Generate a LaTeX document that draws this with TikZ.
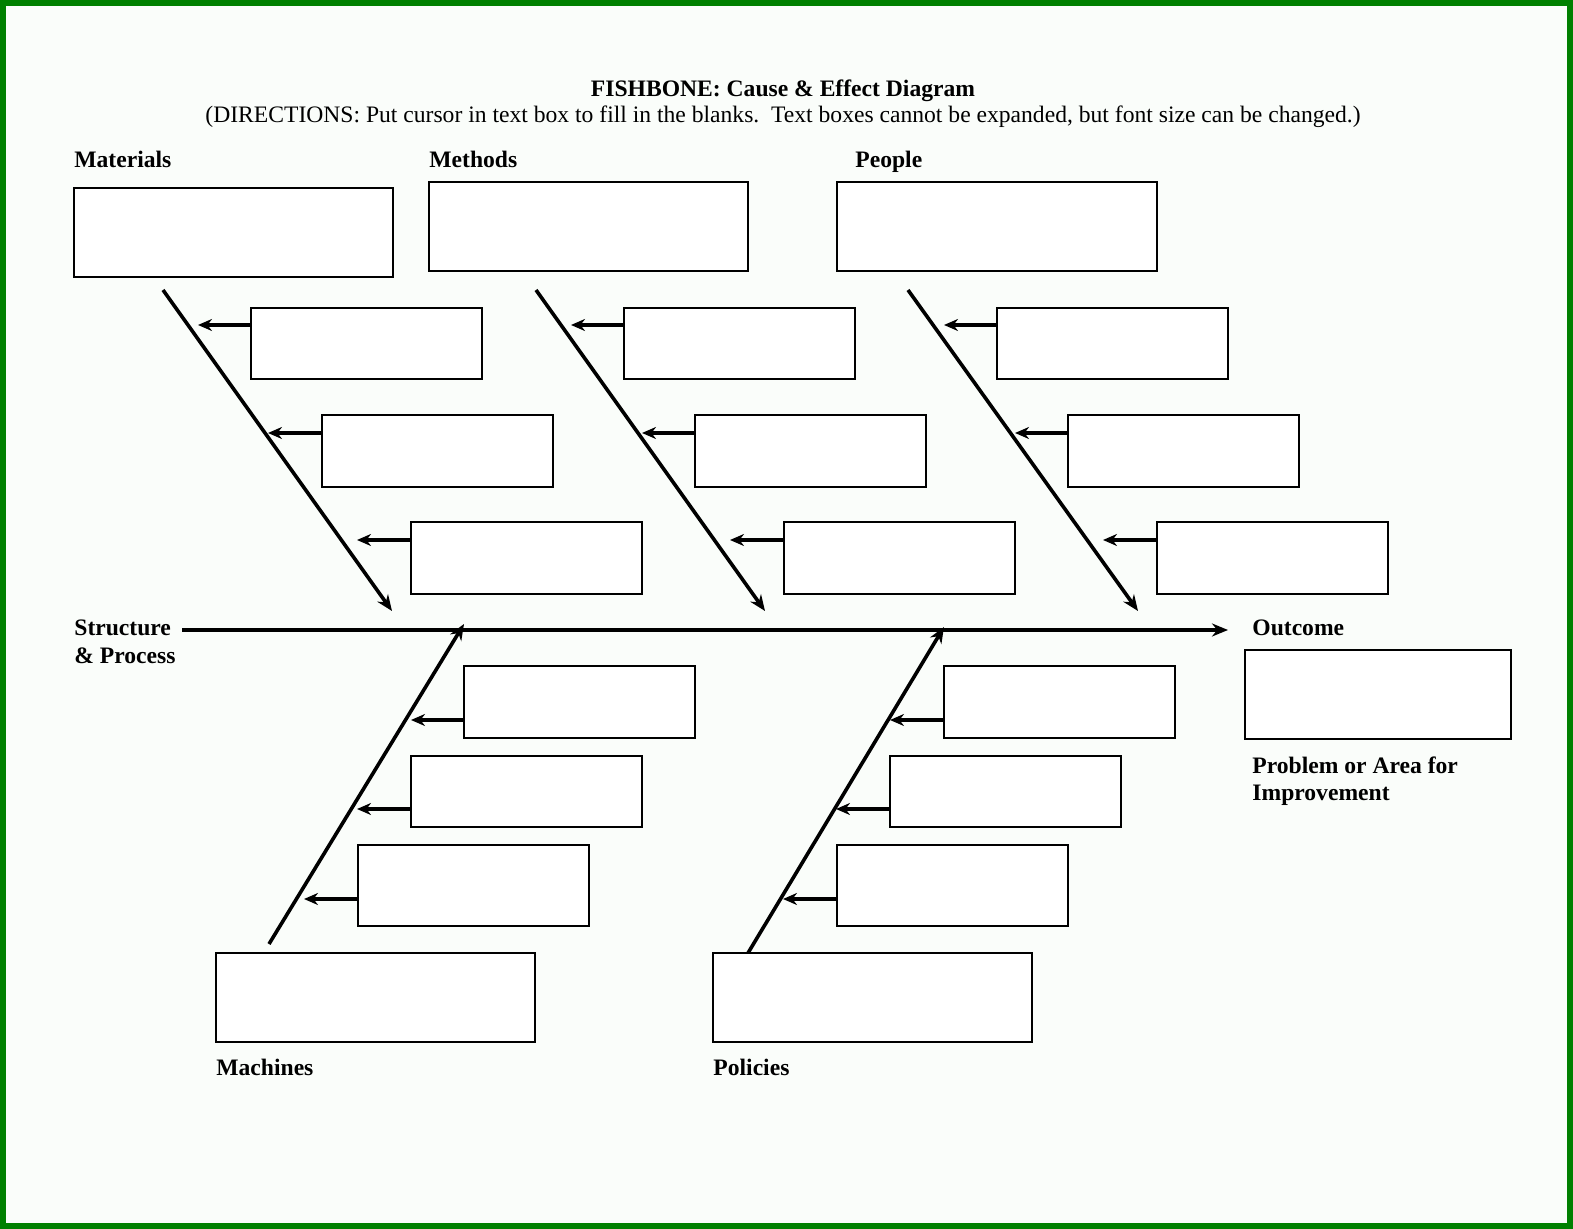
\documentclass[tikz,border=0pt]{standalone}
\usepackage{fontspec}
\setmainfont{Liberation Serif}
\usetikzlibrary{arrows.meta}
\definecolor{bgc}{RGB}{250,253,250}
\definecolor{frame}{RGB}{0,128,0}
\tikzset{
  box/.style={draw=black, line width=0.7pt, fill=white},
  bone/.style={line width=1.8pt, -{Stealth[length=8pt,width=6.5pt]}},
  twig/.style={line width=1.8pt, -{Stealth[length=7pt,width=6pt]}},
  lab/.style={anchor=base west, inner sep=0pt, font=\fontsize{11.8}{13.6}\selectfont\bfseries},
}
\begin{document}
\begin{tikzpicture}[x=0.5pt,y=-0.5pt]
\useasboundingbox (0,0) rectangle (1573,1229);
\fill[bgc] (0,0) rectangle (1573,1229);
\draw[frame, line width=3pt] (3,3) rectangle (1570,1226);

% title
\node[anchor=base, inner sep=0pt, font=\fontsize{11.8}{13.6}\selectfont\bfseries] (title) at (783,97) {FISHBONE: Cause \& Effect Diagram};
\node[anchor=base, inner sep=0pt, font=\fontsize{11.8}{13.6}\selectfont] (dir) at (783,123) {(DIRECTIONS: Put cursor in text box to fill in the blanks.\ \ Text boxes cannot be expanded, but font size can be changed.)};

% labels
\node[lab] (lmat) at (74,168) {Materials};
\node[lab] (lmet) at (429,168) {Methods};
\node[lab] (lpeo) at (855,168) {People};
\node[lab] (lstr) at (74,635) {Structure};
\node[lab] (lstr2) at (74,663) {\& Process};
\node[lab] (lout) at (1252,635) {Outcome};
\node[lab] (lprob) at (1252,773) {Problem or Area for};
\node[lab] (lprob2) at (1252,800) {Improvement};
\node[lab] (lmac) at (216,1075) {Machines};
\node[lab] (lpol) at (713,1075) {Policies};

% main boxes
\draw[box] (74,188) rectangle (393,277);
\draw[box] (429,182) rectangle (748,271);
\draw[box] (837,182) rectangle (1157,271);
\draw[box] (1245,650) rectangle (1511,739);
\draw[box] (216,953) rectangle (535,1042);
\draw[box] (713,953) rectangle (1032,1042);

% sub boxes
\foreach \n/\xa/\ya/\xb/\yb in {
  ma1/251/308/482/379, ma2/322/415/553/487, ma3/411/522/642/594,
  me1/624/308/855/379, me2/695/415/926/487, me3/784/522/1015/594,
  pe1/997/308/1228/379, pe2/1068/415/1299/487, pe3/1157/522/1388/594,
  mc1/464/666/695/738, mc2/411/756/642/827, mc3/358/845/589/926,
  po1/944/666/1175/738, po2/890/756/1121/827, po3/837/845/1068/926}{
  \draw[box] (\xa,\ya) rectangle (\xb,\yb);
}

% coordinates for box left edges and arrow tips
\coordinate (ma1) at (251,325); \coordinate (ma1t) at (198,325);
\coordinate (ma2) at (322,433); \coordinate (ma2t) at (268,433);
\coordinate (ma3) at (411,540); \coordinate (ma3t) at (357,540);
\coordinate (me1) at (624,325); \coordinate (me1t) at (571,325);
\coordinate (me2) at (695,433); \coordinate (me2t) at (642,433);
\coordinate (me3) at (784,540); \coordinate (me3t) at (730,540);
\coordinate (pe1) at (997,325); \coordinate (pe1t) at (944,325);
\coordinate (pe2) at (1068,433); \coordinate (pe2t) at (1015,433);
\coordinate (pe3) at (1157,540); \coordinate (pe3t) at (1103,540);
\coordinate (mc1) at (464,720); \coordinate (mc1t) at (411,720);
\coordinate (mc2) at (411,809); \coordinate (mc2t) at (357,809);
\coordinate (mc3) at (358,899); \coordinate (mc3t) at (304,899);
\coordinate (po1) at (944,720); \coordinate (po1t) at (890,720);
\coordinate (po2) at (890,809); \coordinate (po2t) at (836,809);
\coordinate (po3) at (837,899); \coordinate (po3t) at (783,899);

\foreach \n in {ma1,ma2,ma3,me1,me2,me3,pe1,pe2,pe3,mc1,mc2,mc3,po1,po2,po3}{
  \draw[twig] (\n) -- (\n t);
}

% spine and bones
\coordinate (sp0) at (182,630); \coordinate (sp1) at (1228,630);
\draw[bone] (sp0) -- (sp1);
\coordinate (b1s) at (163,290); \coordinate (b1e) at (392,611);
\coordinate (b2s) at (536,290); \coordinate (b2e) at (765,611);
\coordinate (b3s) at (908,290); \coordinate (b3e) at (1138,611);
\coordinate (b4s) at (269,944); \coordinate (b4e) at (464,624);
\coordinate (b5s) at (748,953); \coordinate (b5e) at (944,627);
\foreach \b in {b1,b2,b3,b4,b5}{
  \draw[bone] (\b s) -- (\b e);
}
\end{tikzpicture}
\end{document}
